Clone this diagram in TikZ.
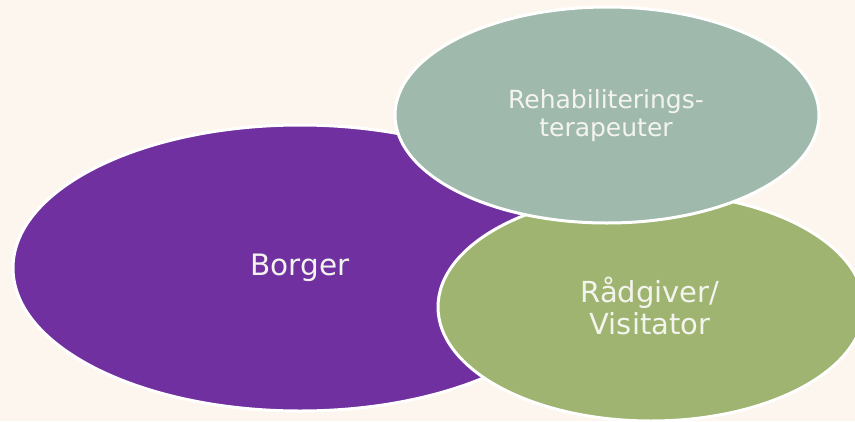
\documentclass[tikz,border=0pt]{standalone}
\usepackage{fontspec}
\setmainfont{DejaVu Sans}
\definecolor{bg}{HTML}{FDF6EE}
\definecolor{purp}{HTML}{7030A0}
\definecolor{sage}{HTML}{A0B9AD}
\definecolor{olive}{HTML}{9EB470}
\definecolor{txt}{HTML}{F4F4EE}
\tikzset{
  blob/.style={ellipse, draw=white, line width=3pt, inner sep=0pt},
  lbl/.style={text=txt, align=center}
}
\usetikzlibrary{shapes.geometric}
\begin{document}
\begin{tikzpicture}[x=1pt,y=-1pt]
\fill[bg] (0,0) rectangle (855,421);
\useasboundingbox (0,0) rectangle (855,421);
\begin{scope}
\clip (0,0) rectangle (855,421);
\node[blob, fill=purp, minimum width=574pt, minimum height=286pt] (borger) at (300,268) {};
\node[blob, fill=olive, minimum width=426pt, minimum height=228pt] (raad) at (651,307) {};
\node[blob, fill=sage, minimum width=424pt, minimum height=216pt] (rehab) at (607,115) {};
\end{scope}
\node[lbl, font=\fontsize{29.5}{34}\selectfont] (tb) at (300,268) {Borger};
\node[lbl, font=\fontsize{29}{32}\selectfont] (tr) at (650,306) {Rådgiver/\\Visitator};
\node[lbl, font=\fontsize{25}{28}\selectfont] (th) at (606,116) {Rehabiliterings-\\terapeuter};
\end{tikzpicture}
\end{document}
